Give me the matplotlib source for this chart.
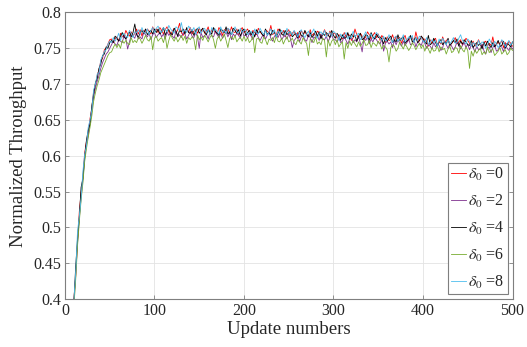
import numpy as np
import matplotlib
matplotlib.use("Agg")
import matplotlib.pyplot as plt

plt.rcParams['font.family'] = ['Liberation Serif', 'DejaVu Serif']
plt.rcParams['mathtext.fontset'] = 'stix'

# update numbers (step 2) and throughput values in thousandths
updates = np.arange(2, 501, 2)

thr_d0 = [
    332, 352, 366, 388, 402, 432, 480, 522, 548, 570, 604, 620, 632, 652, 666, 690, 698, 712, 720, 732, 736, 748, 750, 756, 762,
    763, 758, 763, 766, 760, 771, 766, 766, 775, 770, 767, 773, 767, 771, 777, 770, 776, 767, 775, 772, 777, 774, 770, 780, 773,
    777, 772, 779, 775, 770, 776, 780, 773, 769, 774, 778, 771, 776, 785, 772, 768, 775, 777, 773, 779, 770, 774, 776, 771, 778,
    773, 778, 771, 774, 780, 769, 776, 777, 772, 770, 779, 775, 768, 776, 774, 778, 771, 780, 773, 772, 777, 769, 775, 779, 772,
    774, 777, 771, 768, 775, 772, 769, 778, 773, 770, 767, 776, 774, 771, 782, 769, 772, 768, 777, 774, 770, 775, 766, 773, 776,
    767, 771, 774, 768, 772, 765, 775, 770, 773, 769, 766, 776, 768, 771, 767, 774, 772, 765, 770, 776, 769, 767, 774, 768, 771,
    771, 764, 769, 767, 763, 772, 766, 770, 768, 761, 765, 777, 769, 764, 771, 767, 762, 766, 773, 769, 763, 768, 772, 765, 770,
    761, 768, 764, 758, 766, 761, 762, 769, 760, 767, 763, 765, 757, 764, 768, 759, 761, 766, 765, 758, 773, 763, 760, 767, 762,
    763, 760, 753, 762, 757, 761, 764, 755, 759, 756, 766, 758, 761, 763, 754, 757, 760, 765, 756, 759, 762, 755, 758, 764, 761,
    757, 754, 760, 753, 755, 762, 756, 751, 758, 760, 753, 757, 754, 766, 752, 755, 759, 756, 761, 751, 758, 754, 760, 757, 753,
]
thr_d2 = [
    326, 346, 368, 380, 392, 434, 478, 512, 542, 566, 596, 616, 628, 646, 662, 682, 694, 704, 712, 722, 730, 736, 742, 745, 750,
    755, 760, 756, 754, 762, 760, 758, 768, 764, 749, 759, 768, 767, 764, 773, 763, 766, 763, 772, 769, 766, 771, 762, 769, 772,
    765, 769, 772, 766, 770, 763, 773, 768, 771, 767, 764, 774, 766, 769, 765, 772, 770, 763, 768, 774, 767, 765, 772, 766, 750,
    772, 765, 768, 770, 763, 773, 767, 766, 774, 769, 765, 771, 764, 768, 773, 766, 772, 762, 770, 767, 771, 768, 764, 774, 767,
    769, 764, 771, 767, 762, 768, 772, 765, 761, 766, 770, 763, 768, 773, 764, 760, 767, 769, 765, 771, 762, 766, 768, 763, 770,
    763, 751, 761, 764, 770, 759, 766, 767, 762, 760, 769, 765, 758, 766, 764, 768, 761, 770, 763, 762, 767, 759, 765, 769, 762,
    762, 759, 765, 758, 760, 767, 761, 756, 763, 765, 758, 762, 759, 767, 757, 745, 764, 761, 766, 756, 763, 759, 765, 762, 758,
    756, 763, 746, 757, 760, 756, 759, 751, 761, 755, 762, 757, 753, 760, 754, 758, 763, 755, 756, 762, 752, 759, 757, 754, 761,
    757, 750, 755, 753, 749, 758, 752, 756, 754, 747, 751, 760, 755, 750, 757, 753, 748, 752, 759, 755, 749, 754, 758, 751, 756,
    748, 755, 751, 745, 753, 748, 749, 756, 747, 742, 750, 752, 744, 751, 755, 746, 748, 753, 752, 745, 756, 750, 747, 754, 749,
]
thr_d4 = [
    328, 349, 370, 382, 396, 446, 484, 514, 556, 568, 598, 622, 636, 644, 670, 686, 702, 708, 722, 728, 740, 742, 752, 750, 758,
    761, 758, 767, 764, 760, 767, 772, 766, 763, 768, 773, 766, 772, 784, 769, 765, 772, 775, 771, 777, 769, 773, 775, 770, 777,
    772, 777, 770, 773, 779, 768, 775, 776, 771, 769, 778, 774, 767, 775, 773, 777, 770, 779, 772, 771, 776, 768, 774, 778, 771,
    775, 778, 772, 769, 776, 773, 770, 779, 774, 771, 768, 777, 775, 772, 780, 770, 773, 769, 778, 775, 771, 776, 767, 774, 777,
    768, 772, 775, 769, 773, 766, 776, 771, 774, 770, 767, 777, 769, 772, 768, 775, 773, 766, 771, 777, 770, 768, 775, 769, 772,
    773, 766, 769, 771, 764, 774, 768, 767, 775, 770, 766, 772, 765, 769, 774, 767, 773, 763, 771, 768, 772, 769, 765, 775, 768,
    764, 771, 767, 761, 769, 764, 765, 772, 763, 770, 766, 768, 760, 767, 771, 762, 764, 769, 768, 761, 772, 766, 763, 770, 765,
    766, 763, 756, 765, 760, 764, 767, 758, 762, 759, 769, 761, 764, 766, 757, 760, 763, 768, 759, 762, 765, 758, 761, 767, 764,
    759, 756, 768, 755, 757, 764, 758, 753, 760, 762, 755, 759, 756, 764, 754, 757, 761, 758, 763, 753, 760, 756, 762, 759, 755,
    754, 761, 751, 755, 758, 754, 757, 749, 759, 753, 760, 755, 751, 758, 752, 756, 761, 753, 754, 760, 750, 757, 755, 752, 759,
]
thr_d6 = [
    324, 344, 364, 378, 390, 428, 474, 508, 538, 562, 592, 610, 626, 640, 656, 676, 688, 698, 706, 716, 722, 728, 734, 740, 744,
    745, 751, 756, 751, 756, 750, 761, 757, 761, 757, 755, 765, 758, 761, 758, 765, 763, 757, 762, 768, 762, 760, 767, 748, 764,
    767, 760, 763, 765, 758, 768, 750, 761, 769, 764, 760, 766, 759, 763, 768, 761, 767, 757, 765, 762, 766, 763, 748, 769, 762,
    766, 761, 768, 764, 759, 765, 769, 762, 750, 763, 767, 760, 765, 770, 761, 751, 764, 766, 762, 768, 759, 763, 765, 760, 767,
    760, 765, 758, 761, 767, 744, 763, 764, 759, 757, 766, 762, 755, 763, 761, 765, 758, 767, 760, 759, 764, 756, 762, 766, 759,
    761, 764, 758, 755, 762, 759, 756, 765, 760, 757, 740, 763, 761, 758, 766, 756, 759, 755, 764, 761, 738, 762, 753, 760, 763,
    755, 762, 752, 756, 759, 735, 758, 750, 760, 754, 761, 756, 752, 759, 753, 757, 762, 754, 755, 761, 751, 758, 756, 753, 760,
    756, 749, 754, 752, 748, 731, 751, 755, 753, 746, 750, 759, 754, 749, 756, 752, 747, 751, 758, 754, 748, 753, 757, 750, 755,
    746, 753, 749, 743, 751, 746, 747, 754, 745, 752, 748, 750, 742, 749, 753, 744, 746, 751, 750, 743, 754, 748, 745, 752, 747,
    722, 746, 739, 748, 743, 747, 750, 741, 745, 742, 752, 744, 747, 749, 740, 743, 746, 751, 742, 745, 748, 741, 744, 750, 747,
]
thr_d8 = [
    334, 354, 365, 386, 400, 438, 494, 516, 540, 578, 602, 614, 640, 650, 664, 692, 700, 714, 716, 734, 739, 746, 748, 756, 760,
    758, 765, 760, 764, 771, 761, 769, 771, 767, 765, 775, 771, 765, 773, 772, 776, 769, 779, 772, 771, 777, 769, 775, 779, 772,
    778, 781, 775, 772, 779, 776, 773, 782, 777, 774, 771, 780, 778, 775, 786, 773, 776, 772, 781, 778, 774, 779, 770, 777, 780,
    771, 775, 778, 772, 776, 769, 779, 774, 777, 773, 770, 780, 772, 775, 771, 778, 776, 769, 774, 780, 773, 771, 778, 772, 775,
    776, 769, 772, 774, 767, 777, 771, 770, 778, 773, 769, 775, 768, 772, 777, 770, 776, 766, 774, 771, 775, 772, 768, 778, 771,
    773, 768, 775, 771, 766, 772, 776, 769, 765, 770, 774, 767, 772, 777, 768, 764, 771, 773, 769, 775, 766, 770, 772, 767, 774,
    771, 768, 761, 770, 765, 769, 772, 763, 767, 764, 774, 766, 769, 771, 762, 765, 768, 773, 764, 767, 770, 763, 766, 772, 769,
    764, 761, 767, 760, 762, 769, 763, 758, 765, 767, 760, 764, 761, 769, 759, 762, 766, 763, 768, 758, 765, 761, 767, 764, 760,
    758, 765, 755, 759, 762, 758, 761, 753, 763, 757, 764, 759, 755, 762, 756, 760, 765, 757, 758, 764, 769, 761, 759, 756, 763,
    760, 753, 758, 756, 752, 761, 755, 759, 757, 750, 754, 763, 758, 753, 760, 756, 751, 755, 762, 758, 752, 757, 761, 754, 759,
]

series = [thr_d0, thr_d2, thr_d4, thr_d6, thr_d8]
labels = [r'$\delta_0$ =0', r'$\delta_0$ =2', r'$\delta_0$ =4', r'$\delta_0$ =6', r'$\delta_0$ =8']
colors = ['#FF0000', '#7E2F8E', '#000000', '#77AC30', '#4DBEEE']

xticks = [0, 100, 200, 300, 400, 500]
yticks = [0.4, 0.45, 0.5, 0.55, 0.6, 0.65, 0.7, 0.75, 0.8]
ytick_labels = ['0.4', '0.45', '0.5', '0.55', '0.6', '0.65', '0.7', '0.75', '0.8']

fig = plt.figure(figsize=(5.27, 3.47), dpi=100)
ax = fig.add_axes([0.1233, 0.138, 0.8492, 0.826])

for vals, lab, col in zip(series, labels, colors):
    ax.plot(updates, np.array(vals) / 1000.0, color=col, lw=0.6, label=lab)

ax.set_xlim(0, 500)
ax.set_ylim(0.4, 0.8)
ax.set_xticks(xticks)
ax.set_yticks(yticks)
ax.set_yticklabels(ytick_labels)
ax.grid(True, color='#e3e3e3', lw=0.6)
ax.set_axisbelow(True)
for s in ax.spines.values():
    s.set_color('#7f7f7f')
    s.set_linewidth(0.8)
ax.tick_params(direction='in', top=True, right=True, length=3, width=0.6,
               color='#7f7f7f', labelsize=11.5, labelcolor='#262626', pad=3)
ax.set_xlabel('Update numbers', fontsize=13.5, color='#262626', labelpad=1)
ax.set_ylabel('Normalized Throughput', fontsize=13.5, color='#262626', labelpad=4)

leg = ax.legend(loc='lower right', fontsize=11.5, fancybox=False, framealpha=1,
                edgecolor='#7f7f7f', handlelength=0.95, handletextpad=0.12,
                labelspacing=0.62, borderpad=0.2, borderaxespad=0.3)
leg.get_frame().set_linewidth(0.8)
for t in leg.get_texts():
    t.set_color('#262626')

fig.savefig('out.png', dpi=100)
